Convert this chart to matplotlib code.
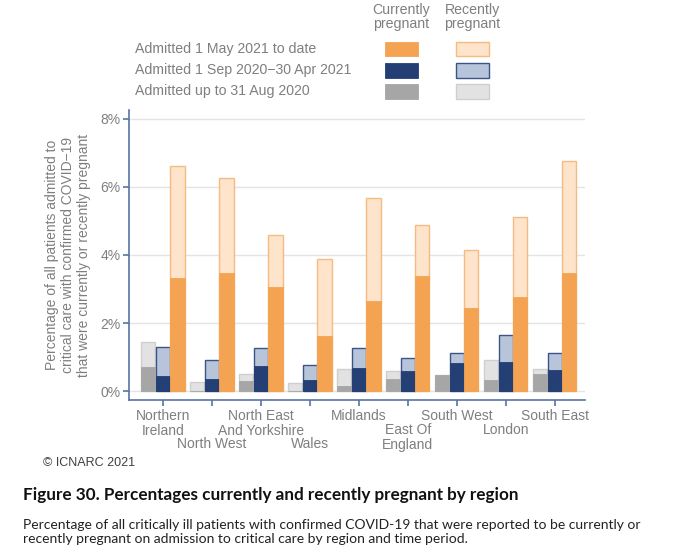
import matplotlib
matplotlib.use("Agg")
import matplotlib.pyplot as plt
from matplotlib.patches import Rectangle
import matplotlib.transforms as mtransforms
import numpy as np

# ---------------- data ----------------
regions = ["Northern\nIreland", "North West", "North East\nAnd Yorkshire", "Wales",
           "Midlands", "East Of\nEngland", "South West", "London", "South East"]
label_rows = [0, 2, 0, 2, 0, 1, 0, 1, 0]   # dodge row of each x label

periods = ["Admitted up to 31 Aug 2020",
           "Admitted 1 Sep 2020\u221230 Apr 2021",
           "Admitted 1 May 2021 to date"]

# currently pregnant (%) per period
cur_p1 = [0.73, 0.00, 0.32, 0.00, 0.15, 0.38, 0.47, 0.35, 0.52]
cur_p2 = [0.44, 0.38, 0.76, 0.34, 0.70, 0.60, 0.82, 0.85, 0.62]
cur_p3 = [3.33, 3.47, 3.06, 1.63, 2.66, 3.38, 2.45, 2.76, 3.48]
# recently pregnant (%) per period (stacked above currently pregnant)
rec_p1 = [0.71, 0.27, 0.20, 0.24, 0.51, 0.22, 0.00, 0.56, 0.14]
rec_p2 = [0.86, 0.53, 0.51, 0.43, 0.58, 0.39, 0.30, 0.80, 0.52]
rec_p3 = [3.27, 2.80, 1.52, 2.24, 3.02, 1.49, 1.70, 2.35, 3.28]

yticks = [0, 2, 4, 6, 8]

# ---------------- style ----------------
FONT = ["Liberation Sans", "DejaVu Sans"]
plt.rcParams["font.family"] = FONT
TXT = "#7f7f7f"
SPINE = "#5873a6"

cur_cols = ["#a6a6a6", "#233f74", "#f4a352"]
rec_cols = ["#e2e2e2", "#b8c4d9", "#fde4cb"]
rec_edges = ["#cfcfcf", "#3a5489", "#f6bb82"]

W, H = 680, 556
fig = plt.figure(figsize=(W / 100, H / 100), dpi=100)
ax = fig.add_axes([129 / W, 1 - 400 / H, (585 - 129) / W, (400 - 110) / H])

x = np.arange(1, len(regions) + 1)
offsets = [-0.3, 0.0, 0.3]
bw = 0.29
curs = [cur_p1, cur_p2, cur_p3]
recs = [rec_p1, rec_p2, rec_p3]
for k in range(3):
    c = np.array(curs[k])
    r = np.array(recs[k])
    ax.bar(x + offsets[k], c + r, width=bw, color=rec_cols[k],
           edgecolor=rec_edges[k], linewidth=1.0, zorder=2)
    ax.bar(x + offsets[k], c, width=bw, color=cur_cols[k],
           edgecolor=cur_cols[k], linewidth=0.6, zorder=3)

ax.set_xlim(0.31, 9.62)
ax.set_ylim(-0.25, 8.25)
ax.set_yticks(yticks)
ax.set_yticklabels([f"{v}%" for v in yticks])
ax.set_xticks(x)
ax.set_xticklabels([""] * len(x))
# dodged x labels
trans = mtransforms.blended_transform_factory(ax.transData, ax.transAxes)
for xi, lab, r in zip(x, regions, label_rows):
    ax.annotate(lab, xy=(xi, 0), xycoords=trans, xytext=(0, -9.5 - 14 * r),
                textcoords="offset pixels", ha="center", va="top",
                fontsize=10, color=TXT, linespacing=1.05, annotation_clip=False)

ax.grid(axis="y", color="#e4e4e4", linewidth=1.0, zorder=0)
ax.set_axisbelow(True)
for s in ["top", "right"]:
    ax.spines[s].set_visible(False)
for s in ["left", "bottom"]:
    ax.spines[s].set_color(SPINE)
    ax.spines[s].set_linewidth(1.2)
ax.tick_params(axis="both", colors=SPINE, labelcolor=TXT, labelsize=10,
               length=4, width=1.2)
ax.tick_params(axis="y", pad=2)
ax.set_ylabel("Percentage of all patients admitted to\n"
              "critical care with confirmed COVID\u221219\n"
              "that were currently or recently pregnant",
              fontsize=10, color=TXT, linespacing=1.15, labelpad=7)

# ---------------- legend (manual) ----------------
def fy(py):
    return 1 - py / H

fig.text(401 / W, fy(17), "Currently\npregnant", ha="center", va="center",
         fontsize=10.2, color=TXT, linespacing=1.0)
fig.text(472 / W, fy(17), "Recently\npregnant", ha="center", va="center",
         fontsize=10.2, color=TXT, linespacing=1.0)
row_y = [91.5, 70.3, 48.8]
for k in range(3):
    fig.text(135 / W, fy(row_y[k]), periods[k], ha="left", va="center",
             fontsize=10.2, color=TXT)
    fig.patches.append(Rectangle((385 / W, fy(row_y[k] + 7.2)), 33 / W, 14.4 / H,
                                 transform=fig.transFigure, facecolor=cur_cols[k],
                                 edgecolor=cur_cols[k], linewidth=0.6))
    fig.patches.append(Rectangle((456 / W, fy(row_y[k] + 7.2)), 33 / W, 14.4 / H,
                                 transform=fig.transFigure, facecolor=rec_cols[k],
                                 edgecolor=rec_edges[k], linewidth=1.0))

fig.text(43 / W, fy(463), "\u00a9 ICNARC 2021", ha="left", va="center",
         fontsize=9, color="#404040")

# ---------------- caption ----------------
CAP = ["Lato", "DejaVu Sans"]
fig.text(23 / W, fy(495), "Figure 30. Percentages currently and recently pregnant by region",
         ha="left", va="center", fontsize=12.3, fontweight="bold", color="#111111",
         family=CAP)
fig.text(23 / W, fy(532),
         "Percentage of all critically ill patients with confirmed COVID-19 that were reported to be currently or\n"
         "recently pregnant on admission to critical care by region and time period.",
         ha="left", va="center", fontsize=10, color="#222222", family=CAP,
         linespacing=1.25)

fig.savefig("out.png", dpi=100)
